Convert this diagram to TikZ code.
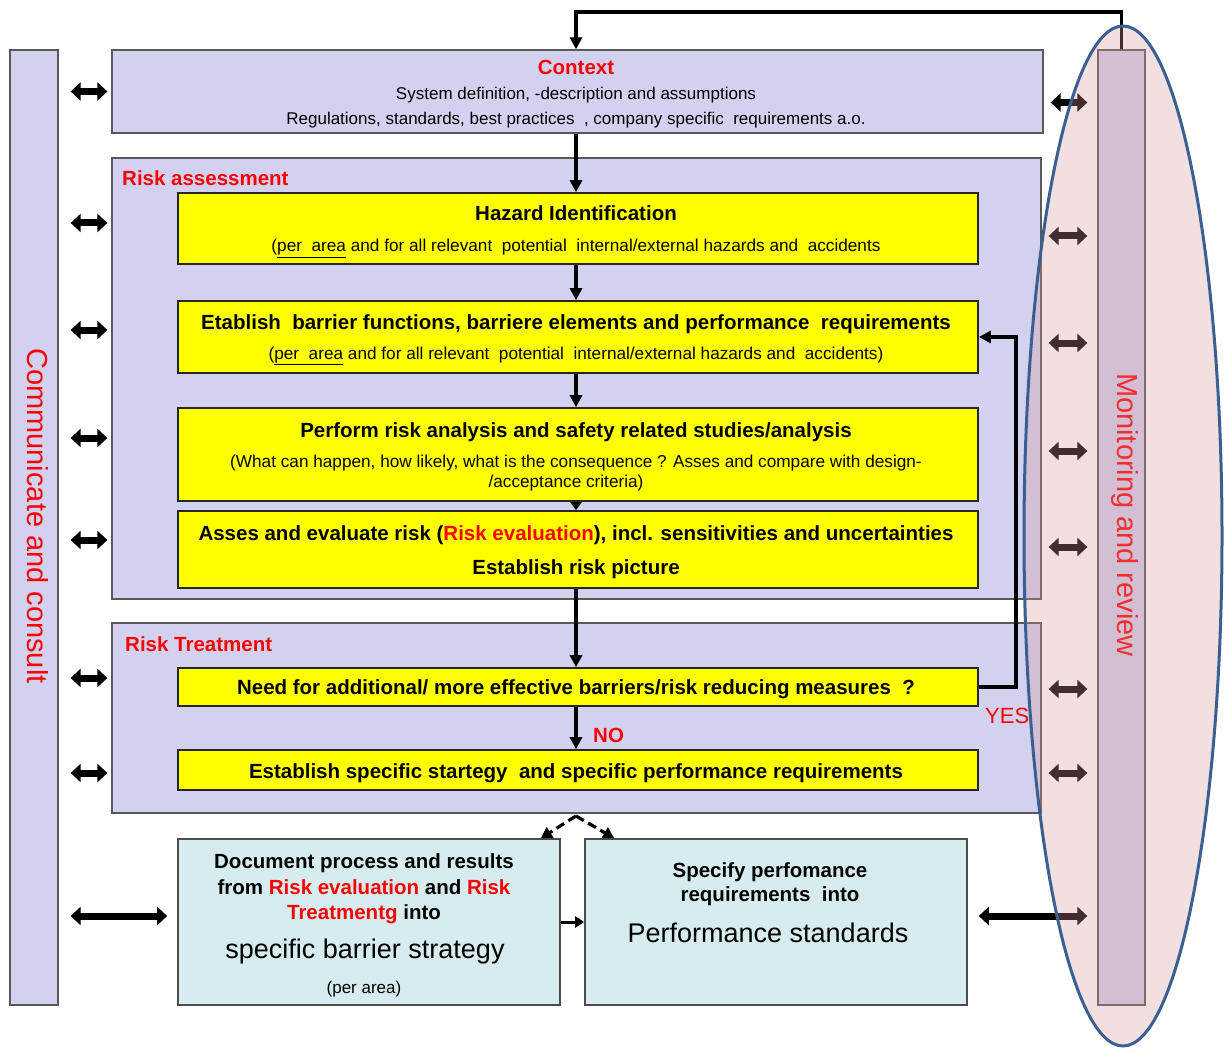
\documentclass[tikz,border=0pt]{standalone}
\usepackage{fontspec}
\setmainfont{Liberation Sans}
\usetikzlibrary{arrows.meta,calc}
\definecolor{lav}{RGB}{210,210,240}
\definecolor{cyanl}{RGB}{214,236,239}
\definecolor{ylw}{RGB}{255,255,0}
\definecolor{rd}{RGB}{255,0,0}
\definecolor{pinkov}{RGB}{212,150,150}
\definecolor{ellblue}{RGB}{58,96,146}
\newcommand\fs[1]{\fontsize{#1}{#1}\selectfont}
\begin{document}
\begin{tikzpicture}[x=1pt,y=-1pt,
  panel/.style={draw=black!65,fill=lav,line width=1.3pt,inner sep=0pt},
  ybox/.style={draw=black!85,fill=ylw,line width=1.6pt,inner sep=0pt,minimum width=800pt},
  cbox/.style={draw=black!70,fill=cyanl,line width=1.6pt,inner sep=0pt,minimum width=382pt,minimum height=166pt},
  txt/.style={inner sep=0pt,anchor=base},
  flow/.style={line width=3.2pt,-{Triangle[length=12pt,width=12pt]}},
  dflow/.style={line width=3.2pt,dash pattern=on 9pt off 5pt,-{Triangle[length=11pt,width=12pt]}},
  dbl/.style={line width=7pt,{Triangle[length=10pt,width=18pt]}-{Triangle[length=10pt,width=18pt]}},
  hdr/.style={txt,font=\bfseries\fs{20.5}},
  sub/.style={txt,font=\fs{17.2}}]
\useasboundingbox (0,0) rectangle (1225,1048);

% side bars
\node[panel,minimum width=48pt,minimum height=955pt] (lb) at (34,527.5) {};
\node[panel,minimum width=47pt,minimum height=955pt] (mon) at (1121.5,527.5) {};
\node[rotate=-90,text=rd,font=\fs{29}] (lbt) at (38,516) {Communicate and consult};
\node[rotate=-90,text=rd,font=\fs{29}] (mont) at (1125,515) {Monitoring and review};

% main panels
\node[panel,minimum width=931pt,minimum height=83pt] (ctx) at (577.5,91.5) {};
\node[panel,minimum width=929pt,minimum height=441pt] (ra) at (576.5,378.5) {};
\node[panel,minimum width=929pt,minimum height=190pt] (rt) at (576.5,718) {};

% process steps
\node[ybox,minimum height=71pt] (hz) at (578,228.5) {};
\node[ybox,minimum height=72pt] (br) at (578,337) {};
\node[ybox,minimum height=93pt] (pf) at (578,454.5) {};
\node[ybox,minimum height=77pt] (as) at (578,549.5) {};
\node[ybox,minimum height=38pt] (nd) at (578,687) {};
\node[ybox,minimum height=40pt] (es) at (578,770) {};
\node[cbox] (doc) at (369,922) {};
\node[cbox] (spec) at (776,922) {};

% texts
\node[hdr,text=rd] (t1) at (576,75) {Context};
\node[txt,font=\fs{17}] (t2) at (576,100) {System definition, -description and assumptions};
\node[txt,font=\fs{17}] (t3) at (576,125) {Regulations, standards, best practices\ \ , company specific\ \ requirements a.o.};
\node[hdr,text=rd,anchor=base west] (t4) at (122,186) {Risk assessment};
\node[hdr] (t5) at (576,221) {Hazard Identification};
\node[sub] (t6) at (576,252) {(\underline{per\ \ area} and for all relevant\ \ potential\ \ internal/external hazards and\ \ accidents};
\node[hdr] (t7) at (576,329) {Etablish\ \ barrier functions, barriere elements and performance\ \ requirements};
\node[sub] (t8) at (576,359) {(\underline{per\ \ area} and for all relevant\ \ potential\ \ internal/external hazards and\ \ accidents)};
\node[hdr] (t9) at (576,437) {Perform risk analysis and safety related studies/analysis};
\node[sub] (t10) at (576,467) {(What can happen, how likely, what is the consequence ? Asses and compare with design-};
\node[sub] (t11) at (566,487) {/acceptance criteria)};
\node[hdr] (t12) at (576,540) {Asses and evaluate risk (\textcolor{rd}{Risk evaluation}), incl. sensitivities and uncertainties};
\node[hdr] (t13) at (576,574) {Establish risk picture};
\node[hdr,text=rd,anchor=base west] (t14) at (125,651) {Risk Treatment};
\node[hdr] (t15) at (576,694) {Need for additional/ more effective barriers/risk reducing measures\ \ ?};
\node[hdr,text=rd,anchor=base west] (no) at (593,742) {NO};
\node[txt,text=rd,anchor=base west,font=\fs{22}] (yes) at (985,723) {YES};
\node[hdr] (t16) at (576,778) {Establish specific startegy\ \ and specific performance requirements};
\node[hdr] (t17) at (364,868) {Document process and results};
\node[hdr] (t18) at (364,894) {from \textcolor{rd}{Risk evaluation} and \textcolor{rd}{Risk}};
\node[hdr] (t19) at (364,919) {\textcolor{rd}{Treatmentg} into};
\node[txt,font=\fs{27}] (t20) at (365,958) {specific barrier strategy};
\node[txt,font=\fs{17}] (t21) at (364,993) {(per area)};
\node[hdr] (t22) at (770,877) {Specify perfomance};
\node[hdr] (t23) at (770,901) {requirements\ \ into};
\node[txt,font=\fs{27}] (t24) at (768,942) {Performance standards};

% vertical flow
\coordinate (spine) at (576,0);
\coordinate (topline) at (0,12);
\coordinate (yesx) at (1016,0);
\coordinate (apex) at (576,816);
\draw[flow] (mon.north) -- (mon.north |- topline) -| (ctx.north -| spine);
\draw[flow] (ctx.south -| spine) -- (hz.north -| spine);
\draw[flow] (hz.south -| spine) -- (br.north -| spine);
\draw[flow] (br.south -| spine) -- (pf.north -| spine);
\draw[line width=2.4pt,-{Triangle[length=8pt,width=11pt]}] (pf.south -| spine) -- (as.north -| spine);
\draw[flow] (as.south -| spine) -- (nd.north -| spine);
\draw[flow] (nd.south -| spine) -- (es.north -| spine);
\draw[flow] (nd.east) -- (nd.east -| yesx) |- (br.east);
\draw[dflow] (apex) -- ($(doc.north east)+(-20,0)$);
\draw[dflow] (apex) -- ($(spec.north west)+(30,0)$);
\draw[line width=3pt,-{Triangle[length=9pt,width=11pt]}] (doc.east) -- (spec.west);

% consult links (left)
\draw[dbl] ([xshift=12pt]lb.east |- ctx.west) -- ([xshift=-4pt]ctx.west);
\draw[dbl] ([shift={(12,-5.5)}]lb.east |- hz.west) -- ([shift={(-4,-5.5)}]ra.west |- hz.west);
\draw[dbl] ([shift={(12,-7)}]lb.east |- br.west) -- ([shift={(-4,-7)}]ra.west |- br.west);
\draw[dbl] ([shift={(12,-16.5)}]lb.east |- pf.west) -- ([shift={(-4,-16.5)}]ra.west |- pf.west);
\draw[dbl] ([shift={(12,-9.5)}]lb.east |- as.west) -- ([shift={(-4,-9.5)}]ra.west |- as.west);
\draw[dbl] ([shift={(12,-9)}]lb.east |- nd.west) -- ([shift={(-4,-9)}]rt.west |- nd.west);
\draw[dbl] ([shift={(12,3)}]lb.east |- es.west) -- ([shift={(-4,3)}]rt.west |- es.west);
\draw[dbl] ([shift={(12,-6)}]lb.east |- doc.west) -- ([shift={(-10,-6)}]doc.west);

% monitoring links (right)
\draw[dbl] ([shift={(7,11)}]ctx.east) -- ([shift={(-10,11)}]mon.west |- ctx.east);
\draw[dbl] ([shift={(7,7.5)}]ra.east |- hz.east) -- ([shift={(-10,7.5)}]mon.west |- hz.east);
\draw[dbl] ([shift={(7,6)}]ra.east |- br.east) -- ([shift={(-10,6)}]mon.west |- br.east);
\draw[dbl] ([shift={(7,-3.5)}]ra.east |- pf.east) -- ([shift={(-10,-3.5)}]mon.west |- pf.east);
\draw[dbl] ([shift={(7,-2.5)}]ra.east |- as.east) -- ([shift={(-10,-2.5)}]mon.west |- as.east);
\draw[dbl] ([shift={(7,2)}]rt.east |- nd.east) -- ([shift={(-10,2)}]mon.west |- nd.east);
\draw[dbl] ([shift={(7,3)}]rt.east |- es.east) -- ([shift={(-10,3)}]mon.west |- es.east);
\draw[dbl] ([shift={(11,-6)}]spec.east) -- ([shift={(-10,-6)}]mon.west |- spec.east);

% monitoring and review envelope
\fill[pinkov,fill opacity=0.3] (1123,536) ellipse [x radius=99, y radius=510];
\draw[ellblue,line width=3pt] (1123,536) ellipse [x radius=99, y radius=510];
\end{tikzpicture}
\end{document}
